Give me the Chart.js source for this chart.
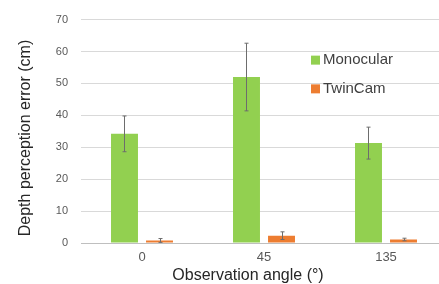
<!DOCTYPE html>
<html>
<head>
<meta charset="utf-8">
<script src="https://cdn.jsdelivr.net/npm/chart.js@4.4.0/dist/chart.umd.min.js"></script>
<style>
html,body{margin:0;padding:0;background:#fff;overflow:hidden;}
#wrap{width:448px;height:284px;}
</style>
</head>
<body>
<div id="wrap"><canvas id="c" width="448" height="284"></canvas></div>
<script>
const categories = ['0', '45', '135'];
const monocular = [34.2, 52.0, 31.3];
const monocularErr = [5.6, 10.6, 5.0];
const twincam = [0.8, 2.3, 1.1];
const twincamErr = [0.6, 1.2, 0.4];
const yTicks = [0, 10, 20, 30, 40, 50, 60, 70];
const xTitle = 'Observation angle (°)';
const yTitle = 'Depth perception error (cm)';

const GREEN = '#92d050';
const ORANGE = '#ed7d31';
const FONT = "'Liberation Sans', Arial, sans-serif";

const errorBars = {
  id: 'errorBars',
  afterDatasetsDraw(chart) {
    const ctx = chart.ctx;
    const y = chart.scales.y;
    ctx.save();
    ctx.strokeStyle = '#6d6d6d';
    ctx.lineWidth = 1;
    chart.data.datasets.forEach((ds, di) => {
      const meta = chart.getDatasetMeta(di);
      meta.data.forEach((bar, i) => {
        const v = ds.data[i], e = ds.errors[i];
        const x = Math.round(bar.x) + 0.5;
        const yt = y.getPixelForValue(v + e);
        const yb = y.getPixelForValue(v - e);
        ctx.beginPath();
        ctx.moveTo(x, yt); ctx.lineTo(x, yb);
        ctx.moveTo(x - 2, yt); ctx.lineTo(x + 2, yt);
        ctx.moveTo(x - 2, yb); ctx.lineTo(x + 2, yb);
        ctx.stroke();
      });
    });
    ctx.restore();
  }
};

const innerLegend = {
  id: 'innerLegend',
  afterDraw(chart) {
    const ctx = chart.ctx;
    const area = chart.chartArea;
    const y = chart.scales.y;
    ctx.save();
    ctx.font = '15px ' + FONT;
    ctx.textBaseline = 'middle';
    ctx.textAlign = 'left';
    chart.data.datasets.forEach((ds, i) => {
      const cy = y.getPixelForValue(i === 0 ? 57.3 : 48.3);
      const sx = area.left + 230;
      ctx.fillStyle = ds.backgroundColor;
      ctx.fillRect(sx, cy - 4.5, 9, 9);
      ctx.fillStyle = '#404040';
      ctx.fillText(ds.label, sx + 12, cy);
    });
    ctx.restore();
  }
};

const axisTitles = {
  id: 'axisTitles',
  afterDraw(chart) {
    const ctx = chart.ctx;
    ctx.save();
    ctx.fillStyle = '#262626';
    ctx.textAlign = 'center';
    ctx.textBaseline = 'middle';
    ctx.font = '16px ' + FONT;
    ctx.fillText(xTitle, 248, 276);
    ctx.translate(26, 138);
    ctx.rotate(-Math.PI / 2);
    ctx.font = '16px ' + FONT;
    ctx.fillText(yTitle, 0, 0);
    ctx.restore();
  }
};

new Chart(document.getElementById('c'), {
  type: 'bar',
  data: {
    labels: categories,
    datasets: [
      { label: 'Monocular', data: monocular, errors: monocularErr, backgroundColor: GREEN,
        categoryPercentage: 0.574, barPercentage: 0.77 },
      { label: 'TwinCam', data: twincam, errors: twincamErr, backgroundColor: ORANGE,
        categoryPercentage: 0.574, barPercentage: 0.77 }
    ]
  },
  options: {
    responsive: false,
    animation: false,
    devicePixelRatio: 1,
    layout: { padding: { top: 15, right: 1, left: 0, bottom: 0 } },
    plugins: { legend: { display: false }, tooltip: { enabled: false } },
    scales: {
      x: {
        grid: { display: false, drawTicks: false },
        border: { display: true, color: '#bfbfbf', width: 1 },
        ticks: { color: '#595959', font: { size: 13, family: FONT }, padding: 7 },
        afterFit(s) { s.height = 41; }
      },
      y: {
        min: 0, max: 70,
        afterBuildTicks(s) { s.ticks = yTicks.map(v => ({ value: v })); },
        grid: { color: '#d9d9d9', drawTicks: false },
        border: { display: false },
        ticks: { color: '#595959', font: { size: 11, family: FONT }, padding: 13 },
        afterFit(s) { s.width = 81; }
      }
    }
  },
  plugins: [errorBars, innerLegend, axisTitles]
});
</script>
</body>
</html>
